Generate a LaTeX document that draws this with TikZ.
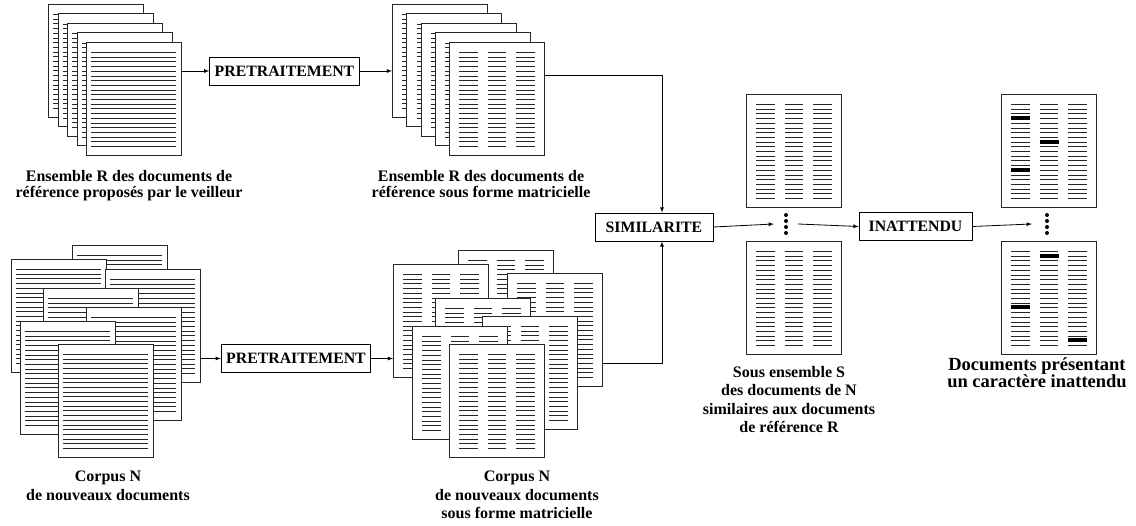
\documentclass[tikz,border=0pt]{standalone}
\usepackage{fontspec}
\setmainfont{Liberation Serif}
\newcommand\boxfont{\bfseries\fontsize{15.8}{18.5}\selectfont}
\newcommand\capfont{\bfseries\fontsize{16}{18.5}\selectfont}
\tikzset{
  sheet/.style={draw=black!85,fill=white,line width=0.9pt,minimum width=95pt,minimum height=113pt,inner sep=0pt,anchor=north west},
  textsheet/.style={sheet,path picture={
    \foreach \r in {0,...,20}
      \draw[line width=0.8pt] ([shift={(5pt,-10pt-4.7pt*\r)}]path picture bounding box.north west) -- ++(85pt,0pt);}},
  matsheet/.style={sheet,path picture={
    \foreach \col in {10,38.5,67} \foreach \r in {0,...,20}
      \draw[line width=0.8pt] ([shift={(\col pt,-10pt-4.7pt*\r)}]path picture bounding box.north west) -- ++(18.5pt,0pt);}},
  stepbox/.style={draw,line width=0.9pt,fill=white,inner xsep=5pt,minimum height=28pt,font=\boxfont},
  caption/.style={align=center,anchor=north,inner sep=0pt,font=\capfont},
  tightcaption/.style={caption,font=\bfseries\fontsize{16}{16}\selectfont},
  flow/.style={line width=0.8pt,-latex},
  hibar/.style={line width=4pt},
  dotnode/.style={minimum width=24pt,minimum height=22pt,inner sep=0pt},
}

\begin{document}
\begin{tikzpicture}[x=1pt,y=-1pt]
\useasboundingbox (0,0) rectangle (1136,526);

\foreach \k in {0,...,4}
  \node[textsheet] (rtxt\k) at (48+9.5*\k,4+9.5*\k) {};
\node[tightcaption] (rtxtlabel) at (129,170) {Ensemble R des documents de\\r\'ef\'erence propos\'es par le veilleur};

\node[stepbox] (pre1) at (284.5,71) {PRETRAITEMENT};

\foreach \k in {0,...,4}
  \node[matsheet] (rmat\k) at (392+14.25*\k,4+9.5*\k) {};
\node[tightcaption] (rmatlabel) at (481,170) {Ensemble R des documents de\\r\'ef\'erence sous forme matricielle};

\node[textsheet] (ntxtA) at (72,245) {};
\node[textsheet] (ntxtB) at (11,259) {};
\node[textsheet] (ntxtC) at (105,269) {};
\node[textsheet] (ntxtD) at (43,288) {};
\node[textsheet] (ntxtE) at (86,307) {};
\node[textsheet] (ntxtF) at (20,321) {};
\node[textsheet] (ntxtG) at (58,344) {};
\node[caption] (ntxtlabel) at (108,471) {Corpus N\\de nouveaux documents};

\node[stepbox] (pre2) at (296,358.5) {PRETRAITEMENT};

\node[matsheet] (nmatA) at (458,250) {};
\node[matsheet] (nmatB) at (393,264) {};
\node[matsheet] (nmatC) at (507,273) {};
\node[matsheet] (nmatD) at (435,298) {};
\node[matsheet] (nmatE) at (482,316) {};
\node[matsheet] (nmatF) at (412,326) {};
\node[matsheet] (nmatG) at (449,344) {};
\node[caption] (nmatlabel) at (517,471) {Corpus N\\de nouveaux documents\\sous forme matricielle};

\node[stepbox,minimum width=118pt] (sim) at (654,227) {SIMILARITE};

\node[matsheet] (simdoc0) at (746,94) {};
\node[matsheet] (simdoc1) at (746,241) {};
\node[dotnode] (sdots) at (786,224) {};
\foreach \k in {0,...,3}
  \fill (sdots.center) ++(0,-9+6*\k) circle (2pt);
\node[caption] (simlabel) at (789,366) {Sous ensemble S\\des documents de N\\similaires aux documents\\de r\'ef\'erence R};

\node[stepbox,minimum width=113pt] (inat) at (915.5,226.5) {INATTENDU};

\node[matsheet] (anom0) at (1001,94) {};
\node[matsheet] (anom1) at (1001,241) {};
\foreach \col/\r in {0/3,1/8,0/14}
  \draw[hibar] ([shift={(10pt+28.5pt*\col,-10pt-4.7pt*\r)}]anom0.north west) -- ++(19pt,0pt);
\foreach \col/\r in {1/1,0/12,2/19}
  \draw[hibar] ([shift={(10pt+28.5pt*\col,-10pt-4.7pt*\r)}]anom1.north west) -- ++(19pt,0pt);
\node[dotnode,minimum width=30pt] (adots) at (1047,224) {};
\foreach \k in {0,...,3}
  \fill (adots.center) ++(0,-9+6*\k) circle (2pt);
\node[caption,font=\bfseries\fontsize{18.5}{17}\selectfont] (anomlabel) at (1037,357) {Documents pr\'esentant\\un caract\`ere inattendu};

\coordinate (topbend) at (662,75);
\coordinate (botbend) at (662,363);
\draw[flow] (pre1.west -| rtxt4.east) -- (pre1.west);
\draw[flow] (pre1.east) -- (pre1.east -| rmat0.west);
\draw[flow] (topbend -| rmat4.east) -- (topbend) -- (sim.north -| topbend);
\draw[flow] (pre2.west -| ntxtC.east) -- (pre2.west);
\draw[flow] (pre2.east) -- (pre2.east -| nmatB.west);
\draw[flow] (botbend -| nmatC.east) -- (botbend) -- (sim.south -| botbend);
\draw[flow] (sim.east) -- (sdots.west);
\draw[flow] (sdots.east) -- (inat.west);
\draw[flow] (inat.east) -- (adots.west);
\end{tikzpicture}
\end{document}
